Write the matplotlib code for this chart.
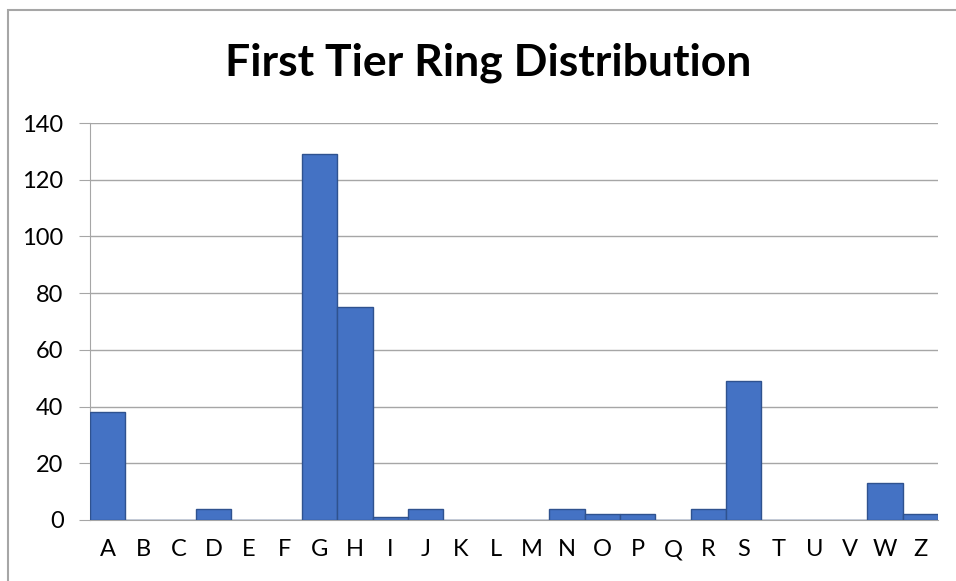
import matplotlib.pyplot as plt
from matplotlib.patches import Rectangle

letters = ["A", "B", "C", "D", "E", "F", "G", "H", "I", "J", "K", "L",
           "M", "N", "O", "P", "Q", "R", "S", "T", "U", "V", "W", "Z"]
counts = [38, 0, 0, 4, 0, 0, 129, 75, 1, 4, 0, 0,
          0, 4, 2, 2, 0, 4, 49, 0, 0, 0, 13, 2]
yticks = [0, 20, 40, 60, 80, 100, 120, 140]

plt.rcParams['font.family'] = ['Lato', 'DejaVu Sans']

fig = plt.figure(figsize=(9.56, 5.81), dpi=100)
ax = fig.add_axes([90 / 956, 1 - 520 / 581, (938 - 90) / 956, (520 - 123) / 581])

x = list(range(len(letters)))
ax.bar(x, counts, width=1.0, color="#4472C4", edgecolor="#2F528F", linewidth=1, zorder=3)

ax.set_xlim(-0.5, len(letters) - 0.5)
ax.set_ylim(0, 140)
ax.set_yticks(yticks)
ax.set_xticks(x)
ax.set_xticklabels(letters)
ax.grid(axis="y", color="#a6a6a6", linewidth=1, zorder=0)

for side in ["top", "right"]:
    ax.spines[side].set_visible(False)
ax.spines["left"].set_color("#a6a6a6")
ax.spines["bottom"].set_color("#a6a6a6")
ax.tick_params(axis="y", length=8, color="#a6a6a6", labelsize=17, pad=11)
ax.tick_params(axis="x", length=0, labelsize=17, pad=14)

fig.text(488 / 956, 1 - 63 / 581, "First Tier Ring Distribution",
         ha="center", va="center", fontsize=32, fontweight="bold")

# chart frame
fig.patches.append(Rectangle((8 / 956, -0.1), 1.2, 1.1 - 10 / 581,
                             transform=fig.transFigure, fill=False,
                             edgecolor="#a6a6a6", linewidth=1.5))

fig.savefig("out.png", dpi=100)
